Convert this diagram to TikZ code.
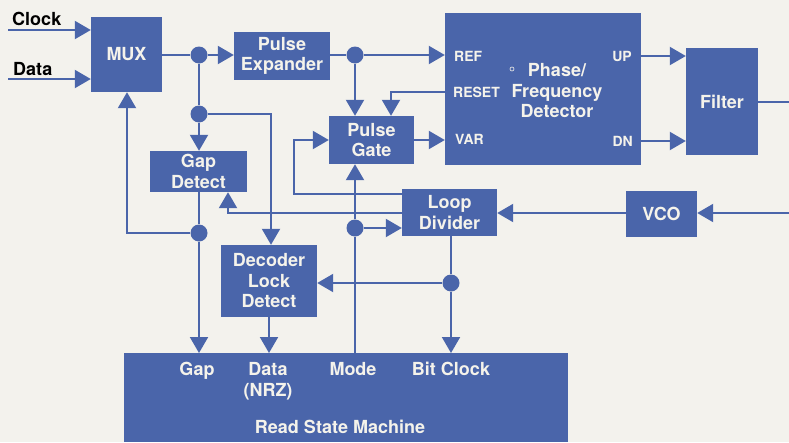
\documentclass[tikz,border=0pt]{standalone}
\usepackage{fontspec}
\setmainfont{TeX Gyre Heros}
\usetikzlibrary{arrows.meta}
\definecolor{hpblue}{RGB}{74,101,170}
\definecolor{paper}{RGB}{243,242,237}
\definecolor{boxtext}{RGB}{245,243,235}
\begin{document}
\begin{tikzpicture}[x=1pt,y=-1pt,
  blk/.style={fill=hpblue, draw=none, text=boxtext, font=\fontsize{18}{20.5}\selectfont\bfseries, align=center, inner sep=0pt},
  wire/.style={draw=hpblue, line width=2pt},
  arr/.style={wire, -{Triangle[length=16pt,width=18pt]}},
  dotnode/.style={circle, fill=hpblue, inner sep=0pt, minimum size=17pt},
  port/.style={text=boxtext, font=\fontsize{14}{16}\selectfont\bfseries, inner sep=0pt},
  lbl/.style={text=black, font=\fontsize{18}{20}\selectfont\bfseries, inner sep=0pt}]
\useasboundingbox (0,0) rectangle (789,442);
\fill[paper] (0,0) rectangle (789,442);

% blocks
\node[blk, minimum width=71pt, minimum height=75pt] (mux) at (126.5,54.5) {MUX};
\node[blk, minimum width=96pt, minimum height=48pt] (pe) at (282,56) {Pulse\\Expander};
\node[blk, minimum width=196pt, minimum height=152pt] (pfd) at (543,89) {};
\node[blk, minimum width=72pt, minimum height=107pt] (filter) at (722,101.5) {Filter};
\node[blk, minimum width=85pt, minimum height=48pt] (pg) at (371.5,140) {Pulse\\Gate};
\node[blk, minimum width=97pt, minimum height=41pt] (gd) at (198.5,171.5) {Gap\\Detect};
\node[blk, minimum width=96pt, minimum height=72pt] (dld) at (269,281) {Decoder\\Lock\\Detect};
\node[blk, minimum width=95pt, minimum height=47pt] (ld) at (449.5,212.5) {Loop\\Divider};
\node[blk, minimum width=71pt, minimum height=46pt] (vco) at (661.5,214) {VCO};
\node[blk, minimum width=444pt, minimum height=89pt, anchor=north west] (rsm) at (124,353) {};

% PFD texts
\node[blk] (pfdt) at (557,91) {Phase/\\Frequency\\Detector};
\draw[boxtext, line width=0.6pt] (512,69) circle (2pt);
\node[port, anchor=west] (ref) at (454,56) {REF};
\node[port, anchor=west] (reset) at (453,92) {RESET};
\node[port, anchor=west] (var) at (455,139) {VAR};
\node[port, anchor=east] (up) at (632,56) {UP};
\node[port, anchor=east] (dn) at (633,141) {DN};

% RSM texts
\node[blk, anchor=base] (tgap) at (197,375) {Gap};
\node[blk, anchor=base] (tdata) at (268,375) {Data};
\node[blk, anchor=base] (tnrz) at (268,396) {(NRZ)};
\node[blk, anchor=base] (tmode) at (353,375) {Mode};
\node[blk, anchor=base] (tbit) at (451,375) {Bit Clock};
\node[blk, anchor=base] (trsm) at (340,433) {Read State Machine};

% inputs
\coordinate (clkin) at (8,30);
\coordinate (datin) at (8,79);
\draw[arr] (clkin) -- (clkin -| mux.west);
\draw[arr] (datin) -- (datin -| mux.west);
\node[lbl, anchor=base west] (clklbl) at (12,25) {Clock};
\node[lbl, anchor=base west] (datlbl) at (13,75) {Data};

% junction dots
\node[dotnode] (d1) at (199,55) {};
\node[dotnode] (d2) at (199,114) {};
\node[dotnode] (d3) at (199,233) {};
\node[dotnode] (d4) at (355,55) {};
\node[dotnode] (d5) at (355,228) {};
\node[dotnode] (d6) at (451,283) {};

% MUX output
\draw[wire] (mux.east |- d1) -- (d1);
\draw[arr] (d1) -- (d1 -| pe.west);
\draw[wire] (d1) -- (d2);
\draw[arr] (d2) -- (d2 |- gd.north);
\coordinate (c1) at (271,114);
\draw[arr] (d2) -- (c1) -- (c1 |- dld.north);
\draw[wire] (d3 |- gd.south) -- (d3);
\draw[arr] (d3) -- (d3 |- rsm.north);
\coordinate (c2) at (127,233);
\draw[arr] (d3) -- (c2) -- (c2 |- mux.south);

% pulse expander
\draw[wire] (pe.east |- d4) -- (d4);
\draw[arr] (d4) -- (d4 -| pfd.west);
\draw[arr] (d4) -- (d4 |- pg.north);
\coordinate (c3) at (391,92);
\draw[arr] (c3 -| pfd.west) -- (c3) -- (c3 |- pg.north);
\draw[arr] (pg.east) -- (pg.east -| pfd.west);

% PFD to filter
\coordinate (upc) at (660,56);
\coordinate (dnc) at (660,141);
\draw[arr] (upc -| pfd.east) -- (upc -| filter.west);
\draw[arr] (dnc -| pfd.east) -- (dnc -| filter.west);
\coordinate (fout) at (789,101.5);
\draw[wire] (filter.east) -- (fout);

% VCO
\coordinate (vin) at (789,213);
\draw[arr] (vin) -- (vin -| vco.east);
\draw[arr] (vin -| vco.west) -- (vin -| ld.east);

% loop divider outputs
\coordinate (c4) at (294,194);
\coordinate (c5) at (294,140);
\draw[arr] (c4 -| ld.west) -- (c4) -- (c5) -- (c5 -| pg.west);
\coordinate (c6) at (228,213);
\draw[arr] (c6 -| ld.west) -- (c6) -- (c6 |- gd.south);

% mode
\draw[arr] (d5 |- rsm.north) -- (d5) -- (d5 |- pg.south);
\draw[arr] (d5) -- (d5 -| ld.west);

% bit clock
\draw[wire] (d6 |- ld.south) -- (d6);
\draw[arr] (d6) -- (d6 |- rsm.north);
\draw[arr] (d6) -- (d6 -| dld.east);
\draw[arr] (dld.south) -- (dld.south |- rsm.north);
\end{tikzpicture}
\end{document}
